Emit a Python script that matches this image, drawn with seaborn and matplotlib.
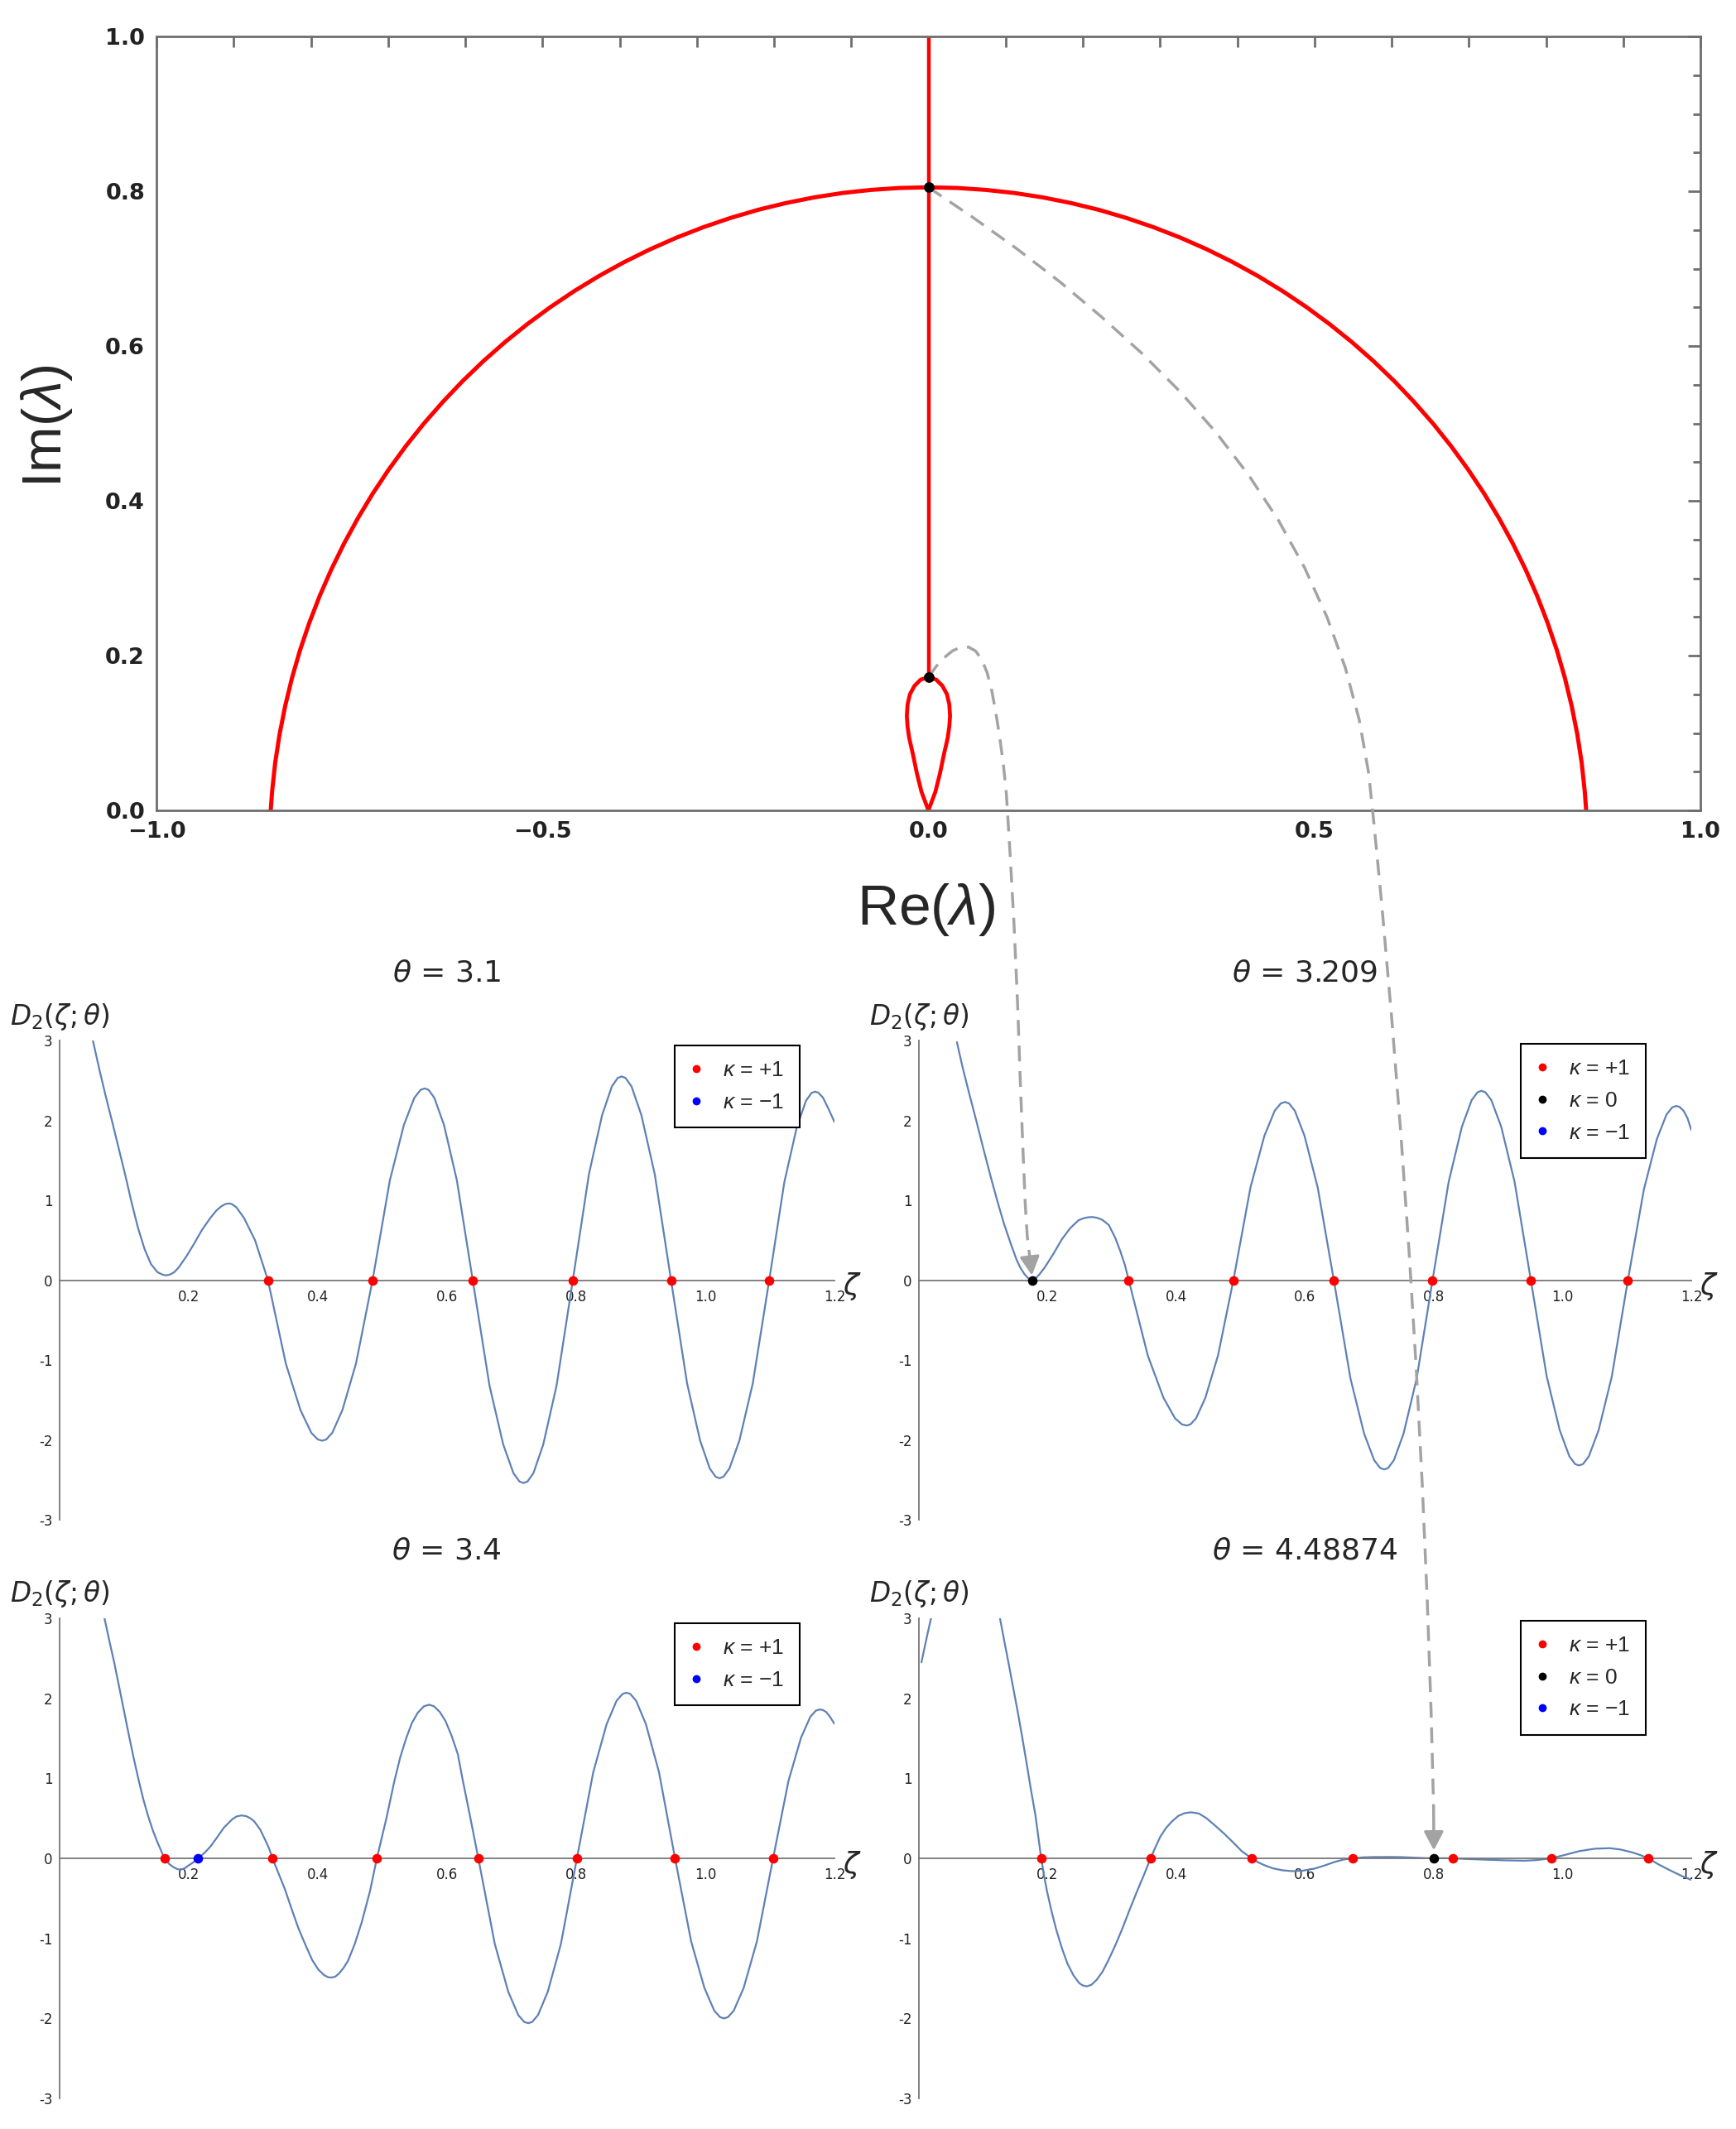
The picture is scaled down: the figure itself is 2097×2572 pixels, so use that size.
import numpy as np
import pandas as pd
import seaborn as sns
import matplotlib.pyplot as plt
from matplotlib.lines import Line2D
from matplotlib.ticker import MultipleLocator

# ---------------- top panel data (Re(lambda), Im(lambda)) ----------------
arc_re = [-0.8520, -0.8502, -0.8462, -0.8405, -0.8332, -0.8244, -0.8140, -0.8020, -0.7885, -0.7735, -0.7570,
          -0.7391, -0.7198, -0.6991, -0.6771, -0.6538, -0.6292, -0.6035, -0.5766, -0.5486, -0.5196, -0.4895,
          -0.4586, -0.4267, -0.3941, -0.3607, -0.3266, -0.2919, -0.2566, -0.2209, -0.1847, -0.1482, -0.1114,
          -0.0744, -0.0372, 0.0,
          0.0372, 0.0744, 0.1114, 0.1482, 0.1847, 0.2209, 0.2566, 0.2919, 0.3266, 0.3607, 0.3941, 0.4267,
          0.4586, 0.4895, 0.5196, 0.5486, 0.5766, 0.6035, 0.6292, 0.6538, 0.6771, 0.6991, 0.7198, 0.7391,
          0.7570, 0.7735, 0.7885, 0.8020, 0.8140, 0.8244, 0.8332, 0.8405, 0.8462, 0.8502, 0.8520]
arc_im = [0.0, 0.0245, 0.0616, 0.0985, 0.1351, 0.1713, 0.2071, 0.2424, 0.2772, 0.3113, 0.3448,
          0.3775, 0.4094, 0.4404, 0.4705, 0.4996, 0.5276, 0.5546, 0.5804, 0.6050, 0.6283, 0.6504,
          0.6711, 0.6905, 0.7084, 0.7249, 0.7399, 0.7534, 0.7654, 0.7759, 0.7847, 0.7920, 0.7977,
          0.8017, 0.8042, 0.805,
          0.8042, 0.8017, 0.7977, 0.7920, 0.7847, 0.7759, 0.7654, 0.7534, 0.7399, 0.7249, 0.7084, 0.6905,
          0.6711, 0.6504, 0.6283, 0.6050, 0.5804, 0.5546, 0.5276, 0.4996, 0.4705, 0.4404, 0.4094, 0.3775,
          0.3448, 0.3113, 0.2772, 0.2424, 0.2071, 0.1713, 0.1351, 0.0985, 0.0616, 0.0245, 0.0]
stem_re = [0.0, 0.0]
stem_im = [0.172, 1.0]
loop_re = [0.0, -0.009, -0.015, -0.020, -0.025, -0.027, -0.028, -0.027, -0.024, -0.018, -0.010, 0.0,
           0.010, 0.018, 0.024, 0.027, 0.028, 0.027, 0.025, 0.020, 0.015, 0.009, 0.0]
loop_im = [0.0, 0.024, 0.048, 0.072, 0.094, 0.108, 0.122, 0.137, 0.150, 0.161, 0.169, 0.172,
           0.169, 0.161, 0.150, 0.137, 0.122, 0.108, 0.094, 0.072, 0.048, 0.024, 0.0]
crit_re = [0.0, 0.0]
crit_im = [0.805, 0.172]

# dashed guide arrows (top-panel data units, running below the frame)
path1_re = [0.0, 0.010, 0.020, 0.031, 0.042, 0.052, 0.061, 0.069, 0.076, 0.082, 0.087, 0.092, 0.097, 0.101,
            0.106, 0.111, 0.1155, 0.119, 0.1225, 0.1255, 0.128, 0.131]
path1_im = [0.172, 0.186, 0.197, 0.206, 0.211, 0.211, 0.206, 0.195, 0.178, 0.155, 0.128, 0.097, 0.060, 0.021,
            -0.06, -0.15, -0.25, -0.35, -0.44, -0.51, -0.55, -0.575]
path2_re = [0.0, 0.0580, 0.1150, 0.1705, 0.2241, 0.2761, 0.3256, 0.3720, 0.4146, 0.4532, 0.4871, 0.5161,
            0.5400, 0.5581, 0.5703, 0.5776, 0.5872, 0.6003, 0.6121, 0.6226, 0.6318, 0.6396, 0.6461, 0.6513,
            0.6544]
path2_im = [0.805, 0.7659, 0.7253, 0.6827, 0.6377, 0.5909, 0.5414, 0.4890, 0.4335, 0.3751, 0.3139, 0.2502,
            0.1844, 0.1168, 0.0479, -0.0217, -0.1212, -0.2706, -0.4201, -0.5697, -0.7194, -0.8692, -1.0191,
            -1.1690, -1.2890]

# ---------------- D2(zeta; theta) panels ----------------
theta_titles = ['3.1', '3.209', '3.4', '4.48874']

zeta_1 = [0.052, 0.062, 0.072, 0.082, 0.092, 0.102, 0.112, 0.122, 0.132, 0.142, 0.152, 0.160, 0.166, 0.172, 0.178,
          0.185, 0.197, 0.209, 0.221, 0.234, 0.243, 0.251, 0.257, 0.262, 0.267, 0.274, 0.286, 0.303, 0.323,
          0.3507, 0.3734, 0.3902, 0.4003, 0.407, 0.4132, 0.4226, 0.4382, 0.4593, 0.485,
          0.5117, 0.5335, 0.5496, 0.5593, 0.5658, 0.5717, 0.5806, 0.5955, 0.6155, 0.640,
          0.6660, 0.6872, 0.7030, 0.7124, 0.7187, 0.7248, 0.7340, 0.7492, 0.7698, 0.795,
          0.8199, 0.8403, 0.8554, 0.8645, 0.8705, 0.8766, 0.8858, 0.9011, 0.9218, 0.947,
          0.9718, 0.9920, 1.0070, 1.0160, 1.022, 1.0282, 1.0374, 1.0528, 1.0736, 1.099,
          1.1224, 1.1416, 1.1558, 1.1643, 1.170, 1.175, 1.182, 1.190, 1.200]
d2_1 = [3.00, 2.64, 2.30, 1.98, 1.65, 1.32, 0.97, 0.65, 0.39, 0.20, 0.10, 0.068, 0.06, 0.072, 0.10,
        0.16, 0.30, 0.46, 0.63, 0.78, 0.87, 0.925, 0.952, 0.96, 0.953, 0.913, 0.778, 0.50, 0.00,
        -1.045, -1.628, -1.912, -1.995, -2.01, -1.995, -1.912, -1.628, -1.045, 0.00,
        1.248, 1.944, 2.282, 2.382, 2.40, 2.382, 2.282, 1.944, 1.248, 0.00,
        -1.321, -2.057, -2.416, -2.521, -2.54, -2.521, -2.416, -2.057, -1.321, 0.00,
        1.326, 2.066, 2.425, 2.531, 2.55, 2.531, 2.425, 2.066, 1.326, 0.00,
        -1.290, -2.009, -2.358, -2.461, -2.48, -2.461, -2.358, -2.009, -1.290, 0.00,
        1.227, 1.912, 2.244, 2.342, 2.36, 2.347, 2.287, 2.157, 1.98]

zeta_2 = [0.059, 0.068, 0.078, 0.089, 0.100, 0.111, 0.1215, 0.132, 0.143, 0.152, 0.158, 0.164, 0.170, 0.1756,
          0.181, 0.187, 0.1956, 0.209, 0.222, 0.235, 0.248, 0.256, 0.263, 0.270, 0.277, 0.285, 0.295, 0.305,
          0.313, 0.320, 0.326,
          0.3557, 0.3800, 0.3980, 0.4088, 0.416, 0.4218, 0.4305, 0.4450, 0.4646, 0.4886,
          0.5151, 0.5367, 0.5528, 0.5624, 0.5688, 0.5749, 0.5840, 0.5991, 0.6196, 0.6446,
          0.6705, 0.6916, 0.7073, 0.7167, 0.723, 0.7290, 0.7380, 0.7530, 0.7733, 0.798,
          0.8231, 0.8436, 0.8588, 0.8679, 0.874, 0.8801, 0.8893, 0.9047, 0.9254, 0.9507,
          0.9754, 0.9956, 1.0106, 1.0196, 1.0256, 1.0317, 1.0408, 1.0560, 1.0765, 1.1015,
          1.1263, 1.1465, 1.1615, 1.1705, 1.1765, 1.1815, 1.188, 1.194, 1.200]
d2_2 = [2.98, 2.66, 2.34, 2.00, 1.65, 1.31, 1.00, 0.71, 0.45, 0.25, 0.15, 0.075, 0.022, 0.00,
        0.02, 0.07, 0.16, 0.33, 0.51, 0.65, 0.75, 0.775, 0.787, 0.79, 0.78, 0.755, 0.69, 0.53,
        0.36, 0.19, 0.00,
        -0.946, -1.474, -1.731, -1.806, -1.82, -1.806, -1.731, -1.474, -0.946, 0.00,
        1.160, 1.806, 2.121, 2.213, 2.23, 2.213, 2.121, 1.806, 1.160, 0.00,
        -1.232, -1.920, -2.254, -2.352, -2.37, -2.352, -2.254, -1.920, -1.232, 0.00,
        1.232, 1.920, 2.254, 2.352, 2.37, 2.352, 2.254, 1.920, 1.232, 0.00,
        -1.206, -1.879, -2.206, -2.303, -2.32, -2.303, -2.206, -1.879, -1.206, 0.00,
        1.134, 1.766, 2.073, 2.164, 2.18, 2.17, 2.12, 2.03, 1.88]

zeta_3 = [0.070, 0.078, 0.085, 0.0925, 0.100, 0.1075, 0.115, 0.1225, 0.130, 0.1375, 0.145, 0.151, 0.157, 0.163,
          0.170, 0.1766, 0.182, 0.186, 0.191, 0.196, 0.200, 0.2075, 0.215, 0.225, 0.234, 0.245, 0.255, 0.268,
          0.275, 0.282, 0.289, 0.296, 0.302, 0.311, 0.319, 0.325, 0.330,
          0.349, 0.360, 0.370, 0.381, 0.3915, 0.401, 0.410, 0.416, 0.421, 0.427, 0.433, 0.440, 0.447, 0.457,
          0.468, 0.481, 0.4916,
          0.5064, 0.5183, 0.5277, 0.537, 0.5458, 0.555, 0.5645, 0.5725, 0.5801, 0.589, 0.5976, 0.607, 0.617,
          0.6235, 0.636, 0.6487,
          0.6742, 0.6951, 0.7105, 0.7198, 0.726, 0.7320, 0.7411, 0.7561, 0.7765, 0.8013,
          0.8266, 0.8473, 0.8627, 0.8719, 0.878, 0.8840, 0.8930, 0.9081, 0.9284, 0.9532,
          0.9782, 0.9987, 1.0138, 1.0229, 1.029, 1.0351, 1.0442, 1.0594, 1.0799, 1.105,
          1.1288, 1.1482, 1.1626, 1.1712, 1.177, 1.1815, 1.187, 1.193, 1.200]
d2_3 = [3.00, 2.70, 2.45, 2.15, 1.85, 1.55, 1.26, 0.99, 0.74, 0.53, 0.345, 0.22, 0.107, 0.00,
        -0.07, -0.11, -0.132, -0.14, -0.135, -0.115, -0.09, -0.05, 0.00, 0.07, 0.147, 0.27, 0.385, 0.49,
        0.525, 0.536, 0.528, 0.50, 0.46, 0.36, 0.226, 0.12, 0.00,
        -0.38, -0.64, -0.87, -1.08, -1.27, -1.39, -1.46, -1.485, -1.49, -1.48, -1.44, -1.37, -1.28, -1.08,
        -0.805, -0.41, 0.00,
        0.50, 0.95, 1.26, 1.50, 1.69, 1.82, 1.90, 1.92, 1.90, 1.83, 1.72, 1.54, 1.30,
        1.02, 0.52, 0.00,
        -1.071, -1.669, -1.959, -2.045, -2.06, -2.045, -1.959, -1.669, -1.071, 0.00,
        1.076, 1.677, 1.969, 2.054, 2.07, 2.054, 1.969, 1.677, 1.076, 0.00,
        -1.040, -1.620, -1.902, -1.985, -2.00, -1.985, -1.902, -1.620, -1.040, 0.00,
        0.967, 1.507, 1.769, 1.846, 1.86, 1.855, 1.83, 1.77, 1.68]

# panel 4 leaves the plot range near the origin, so it comes in two pieces
zeta_4a = [0.004, 0.010, 0.016, 0.0195]
d2_4a = [2.45, 2.68, 2.90, 3.02]
zeta_4b = [0.125, 0.133, 0.140, 0.147, 0.154, 0.161, 0.1675, 0.174, 0.181, 0.1855, 0.190, 0.1945, 0.199, 0.206,
           0.213, 0.222, 0.231, 0.240, 0.249, 0.255, 0.261, 0.268, 0.276, 0.285, 0.294, 0.305, 0.316, 0.327,
           0.339, 0.350, 0.360, 0.3675, 0.375, 0.384, 0.393, 0.403, 0.413, 0.423, 0.435, 0.447, 0.460, 0.474,
           0.488, 0.5015, 0.510, 0.517, 0.527, 0.538, 0.550, 0.565, 0.580, 0.596, 0.614, 0.630, 0.646, 0.660,
           0.674, 0.690, 0.706, 0.730, 0.750, 0.770, 0.785, 0.800, 0.815, 0.830, 0.850, 0.877, 0.910, 0.941,
           0.960, 0.982, 1.000, 1.026, 1.050, 1.0735, 1.090, 1.108, 1.121, 1.133, 1.150, 1.167, 1.185, 1.200]
d2_4b = [3.04, 2.70, 2.41, 2.11, 1.81, 1.49, 1.18, 0.86, 0.54, 0.27, 0.00, -0.22, -0.41, -0.66,
         -0.88, -1.12, -1.32, -1.46, -1.56, -1.59, -1.60, -1.58, -1.52, -1.42, -1.28, -1.09, -0.88, -0.65,
         -0.41, -0.20, 0.00, 0.14, 0.27, 0.38, 0.46, 0.53, 0.565, 0.575, 0.56, 0.50, 0.41, 0.31,
         0.20, 0.09, 0.04, 0.00, -0.05, -0.09, -0.125, -0.15, -0.16, -0.155, -0.13, -0.09, -0.045, -0.015,
         0.00, 0.012, 0.016, 0.017, 0.015, 0.008, 0.003, 0.00, 0.002, 0.00, -0.008, -0.016, -0.025, -0.03,
         -0.022, 0.00, 0.035, 0.09, 0.12, 0.127, 0.11, 0.075, 0.04, 0.00, -0.08, -0.15, -0.22, -0.27]

roots_red = [[0.323, 0.485, 0.640, 0.795, 0.947, 1.099],
             [0.326, 0.4886, 0.6446, 0.798, 0.9507, 1.1015],
             [0.163, 0.330, 0.4916, 0.6487, 0.8013, 0.9532, 1.105],
             [0.190, 0.360, 0.517, 0.674, 0.830, 0.982, 1.133]]
roots_black = [[], [0.1756], [], [0.800]]
roots_blue = [[], [], [0.215], []]
legend_kappa = [['+1', '\u22121'], ['+1', '0', '\u22121'], ['+1', '\u22121'], ['+1', '0', '\u22121']]
kappa_color = {'+1': 'red', '0': 'black', '\u22121': 'blue'}

# ---------------- style ----------------
sns.set_style('white')
plt.rcParams['font.family'] = ['Liberation Sans', 'DejaVu Sans']
plt.rcParams['mathtext.fontset'] = 'custom'
plt.rcParams['mathtext.rm'] = 'Liberation Sans'
plt.rcParams['mathtext.it'] = 'Liberation Sans:italic'
plt.rcParams['mathtext.bf'] = 'Liberation Sans:bold'

red = '#FF0000'
curve_blue = '#5E81B5'
guide_gray = '#A3A3A3'
frame_gray = '#6E6E6E'
W, H = 2097, 2572

fig = plt.figure(figsize=(W / 100, H / 100), dpi=100)
fig.patch.set_facecolor('white')

# ---------------- top panel ----------------
ax_top = fig.add_axes([189 / W, 1 - 979 / H, (2054 - 189) / W, (979 - 44) / H])
sns.lineplot(x=arc_re, y=arc_im, ax=ax_top, sort=False, estimator=None, color=red, lw=3.6)
sns.lineplot(x=stem_re, y=stem_im, ax=ax_top, sort=False, estimator=None, color=red, lw=3.2)
sns.lineplot(x=loop_re, y=loop_im, ax=ax_top, sort=False, estimator=None, color=red, lw=3.4)
sns.scatterplot(x=crit_re, y=crit_im, ax=ax_top, color='black', s=85, linewidth=0, legend=False)
ax_top.collections[-1].set_zorder(9)
ax_top.set_xlim(-1, 1)
ax_top.set_ylim(0, 1)
ax_top.set_xticks([-1, -0.5, 0, 0.5, 1], labels=['\u22121.0', '\u22120.5', '0.0', '0.5', '1.0'],
                  fontfamily='DejaVu Sans', fontweight='bold', fontsize=19.5, color='#222222')
ax_top.set_yticks([0, 0.2, 0.4, 0.6, 0.8, 1.0], labels=['0.0', '0.2', '0.4', '0.6', '0.8', '1.0'],
                  fontfamily='DejaVu Sans', fontweight='bold', fontsize=19.5, color='#222222')
ax_top.xaxis.set_minor_locator(MultipleLocator(0.1))
ax_top.yaxis.set_minor_locator(MultipleLocator(0.05))
ax_top.tick_params(which='both', direction='in', top=True, right=True, color=frame_gray, width=2)
ax_top.tick_params(axis='x', which='both', length=9, pad=9)
ax_top.tick_params(axis='y', which='major', length=11, pad=10)
ax_top.tick_params(axis='y', which='minor', length=6.5)
for sp in ax_top.spines.values():
    sp.set_color(frame_gray)
    sp.set_linewidth(2)
ax_top.set_xlabel('')
ax_top.set_ylabel('')
ax_top.set_zorder(5)
fig.text(57 / W, 1 - 515 / H, r'Im($\lambda$)', rotation=90, ha='center', va='center', fontsize=48)
fig.text(1119 / W, 1 - 1099 / H, r'Re($\lambda$)', ha='center', va='center', fontsize=50)

# ---------------- four D2 panels ----------------
panel_boxes = [[71.6, 1257, 1008, 1836], [1110, 1257, 2043, 1836],
               [71.6, 1955, 1008, 2535], [1110, 1955, 2043, 2535]]
legend_corner = [(815, 1263), (1837, 1261), (815, 1961), (1837, 1958)]
curves = [[(zeta_1, d2_1)], [(zeta_2, d2_2)], [(zeta_3, d2_3)], [(zeta_4a, d2_4a), (zeta_4b, d2_4b)]]

panel_axes = []
for i in range(4):
    x0, y0, x1, y1 = panel_boxes[i]
    ax = fig.add_axes([x0 / W, 1 - y1 / H, (x1 - x0) / W, (y1 - y0) / H])
    ax.patch.set_alpha(0)
    for zz, dd in curves[i]:
        sns.lineplot(x=zz, y=dd, ax=ax, sort=False, estimator=None, color=curve_blue, lw=1.6)
    for pts, col in [(roots_red[i], 'red'), (roots_black[i], 'black'), (roots_blue[i], 'blue')]:
        if pts:
            sns.scatterplot(x=pts, y=[0.0] * len(pts), ax=ax, color=col, s=70, linewidth=0,
                            legend=False, clip_on=False)
            ax.collections[-1].set_zorder(5)
    ax.set_xlim(0, 1.2)
    ax.set_ylim(-3, 3)
    ax.spines['left'].set_position('zero')
    ax.spines['bottom'].set_position('zero')
    ax.spines['top'].set_visible(False)
    ax.spines['right'].set_visible(False)
    for s in ['left', 'bottom']:
        ax.spines[s].set_color('#777777')
        ax.spines[s].set_linewidth(1.3)
    ax.set_xticks([0.2, 0.4, 0.6, 0.8, 1.0, 1.2], labels=['0.2', '0.4', '0.6', '0.8', '1.0', '1.2'],
                  fontfamily='DejaVu Sans', fontsize=12, color='#222222')
    ax.set_yticks([-3, -2, -1, 0, 1, 2, 3], labels=['-3', '-2', '-1', '0', '1', '2', '3'],
                  fontfamily='DejaVu Sans', fontsize=12, color='#222222')
    ax.xaxis.set_minor_locator(MultipleLocator(0.05))
    ax.yaxis.set_minor_locator(MultipleLocator(0.2))
    ax.tick_params(which='both', direction='in', color='#777777', width=1.1)
    ax.tick_params(which='major', length=5)
    ax.tick_params(which='minor', length=3.2)
    ax.tick_params(axis='x', pad=8)
    ax.tick_params(axis='y', pad=6)
    ax.set_xlabel('')
    ax.set_ylabel('')
    ax.text(1.213, -0.08, r'$\zeta$', fontsize=25, ha='left', va='center', clip_on=False,
            math_fontfamily='dejavusans')
    ax.text(-0.077, 3.30, r'$D_2(\zeta;\theta)$', fontsize=23.5, ha='left', va='center', clip_on=False,
            math_fontfamily='dejavusans')
    ax.text(0.5, 1.14, r'$\theta$ = ' + theta_titles[i], transform=ax.transAxes, ha='center', va='center',
            fontsize=26, family='DejaVu Sans', math_fontfamily='dejavusans')
    handles = [Line2D([], [], marker='o', ls='', color=kappa_color[k], markersize=6,
                      label=r'$\kappa$ = ' + k) for k in legend_kappa[i]]
    lx, ly = legend_corner[i]
    leg = ax.legend(handles=handles, loc='upper left', bbox_to_anchor=(lx / W, 1 - ly / H),
                    bbox_transform=fig.transFigure, borderaxespad=0, fontsize=19, frameon=True,
                    fancybox=False, framealpha=1, handlelength=0.6, handletextpad=0.9,
                    borderpad=0.7, labelspacing=0.55)
    leg.get_frame().set_edgecolor('black')
    leg.get_frame().set_linewidth(1.5)
    panel_axes.append(ax)

# ---------------- dashed guide arrows ----------------
dash = (0, (5.5, 3.4))
ax_top.plot(path1_re, path1_im, color=guide_gray, lw=2.5, linestyle=dash, clip_on=False, zorder=7)
ax_top.plot(path2_re, path2_im, color=guide_gray, lw=2.5, linestyle=dash, clip_on=False, zorder=7)
to_top = ax_top.transData.inverted()
tip1 = to_top.transform(panel_axes[1].transData.transform((0.1756, 0.06)))
tip2 = to_top.transform(panel_axes[3].transData.transform((0.800, 0.10)))
for tip, px, py in [(tip1, path1_re[-1], path1_im[-1]), (tip2, path2_re[-1], path2_im[-1])]:
    ax_top.annotate('', xy=(tip[0], tip[1]), xytext=(px, py), annotation_clip=False, zorder=7,
                    arrowprops=dict(arrowstyle='-|>,head_length=0.68,head_width=0.36', mutation_scale=20,
                                    color=guide_gray, lw=2.5, shrinkA=0, shrinkB=0))

fig.savefig('out.png', dpi=100)
